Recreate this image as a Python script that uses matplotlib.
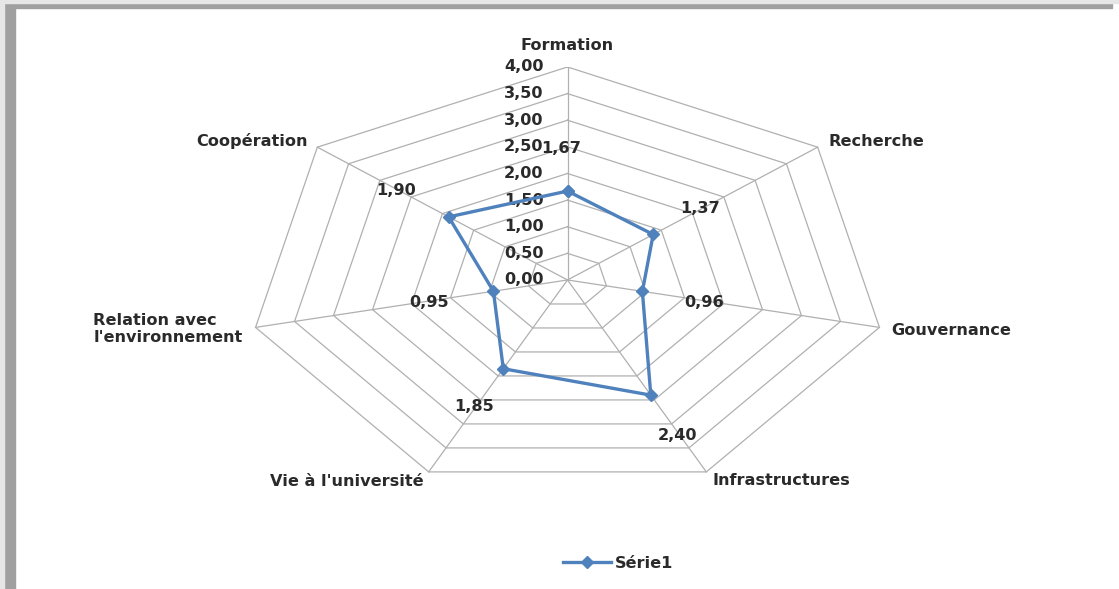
import numpy as np
import matplotlib
matplotlib.use("Agg")
import matplotlib.pyplot as plt
from matplotlib.patches import Rectangle

# données
categories = ["Formation", "Recherche", "Gouvernance", "Infrastructures",
              "Vie à l'université", "Relation avec\nl'environnement", "Coopération"]
valeurs = [1.67, 1.37, 0.96, 2.40, 1.85, 0.95, 1.90]
graduations = [0.0, 0.5, 1.0, 1.5, 2.0, 2.5, 3.0, 3.5, 4.0]
serie = "Série1"

# placement des étiquettes (pixels)
cat_offsets = [(0, 21), (11, 6), (12, -3), (6, -9), (-5, -10), (-13, -2), (-10, 6)]
cat_ha = ["center", "left", "left", "left", "right", "right", "right"]
val_offsets = [(-6, 43), (47, 26), (62, -11), (27, -40), (-29, -38), (-64, -11), (-53, 26)]

plt.rcParams["font.family"] = ["DejaVu Sans"]
plt.rcParams["font.weight"] = "bold"
bleu = "#4F81BD"
gris = "#b0b0b0"
texte = "#2a2a2a"
police = 11.6

fig = plt.figure(figsize=(11.19, 5.89), dpi=100)
ax = fig.add_axes([0.2212, 0.1630, 0.5719, 0.7233])
ax.set_xlim(-4, 4)
ax.set_ylim(-4, 4)
ax.axis("off")

n = len(categories)
theta = np.arange(n) * 2 * np.pi / n
sx, sy = np.sin(theta), np.cos(theta)

# grille heptagonale
for r in graduations[1:]:
    ax.plot(np.append(r * sx, r * sx[0]), np.append(r * sy, r * sy[0]),
            color=gris, lw=0.9, zorder=1)
rmax = graduations[-1]
for i in range(n):
    ax.plot([0, rmax * sx[i]], [0, rmax * sy[i]], color=gris, lw=0.9, zorder=1)

# graduations
for r in graduations:
    ax.annotate(f"{r:.2f}".replace(".", ","), xy=(0, r), xytext=(-24, 0),
                textcoords="offset pixels", ha="right", va="center",
                fontsize=police, color=texte, annotation_clip=False)

# catégories
for i, c in enumerate(categories):
    ax.annotate(c, xy=(rmax * sx[i], rmax * sy[i]), xytext=cat_offsets[i],
                textcoords="offset pixels", ha=cat_ha[i], va="center",
                fontsize=police, color=texte, annotation_clip=False,
                linespacing=1.15, multialignment="left")

# série
v = np.array(valeurs)
ligne, = ax.plot(np.append(v * sx, v[0] * sx[0]), np.append(v * sy, v[0] * sy[0]),
                 color=bleu, lw=2.4, marker="D", markersize=6.5, zorder=3, label=serie)

for i, val in enumerate(valeurs):
    ax.annotate(f"{val:.2f}".replace(".", ","), xy=(v[i] * sx[i], v[i] * sy[i]),
                xytext=val_offsets[i], textcoords="offset pixels",
                ha="center", va="center", fontsize=police, color=texte,
                annotation_clip=False)

fig.legend(handles=[ligne], loc="center left", bbox_to_anchor=(0.503, 0.044),
           frameon=False, fontsize=police, handlelength=3.0, handletextpad=0.2,
           borderaxespad=0, borderpad=0, labelcolor=texte)

# cadre gris (ombre)
fig.patches.append(Rectangle((0.004, 0.0), 0.009, 0.992, transform=fig.transFigure,
                             color="#a0a0a0", zorder=0))
fig.patches.append(Rectangle((0.004, 0.986), 0.99, 0.009, transform=fig.transFigure,
                             color="#a0a0a0", zorder=0))
fig.patches.append(Rectangle((0.0, 0.0), 0.004, 1.0, transform=fig.transFigure,
                             color="#e6e6e6", zorder=0))
fig.patches.append(Rectangle((0.0, 0.995), 1.0, 0.005, transform=fig.transFigure,
                             color="#e6e6e6", zorder=0))

fig.savefig("out.png", dpi=100)
